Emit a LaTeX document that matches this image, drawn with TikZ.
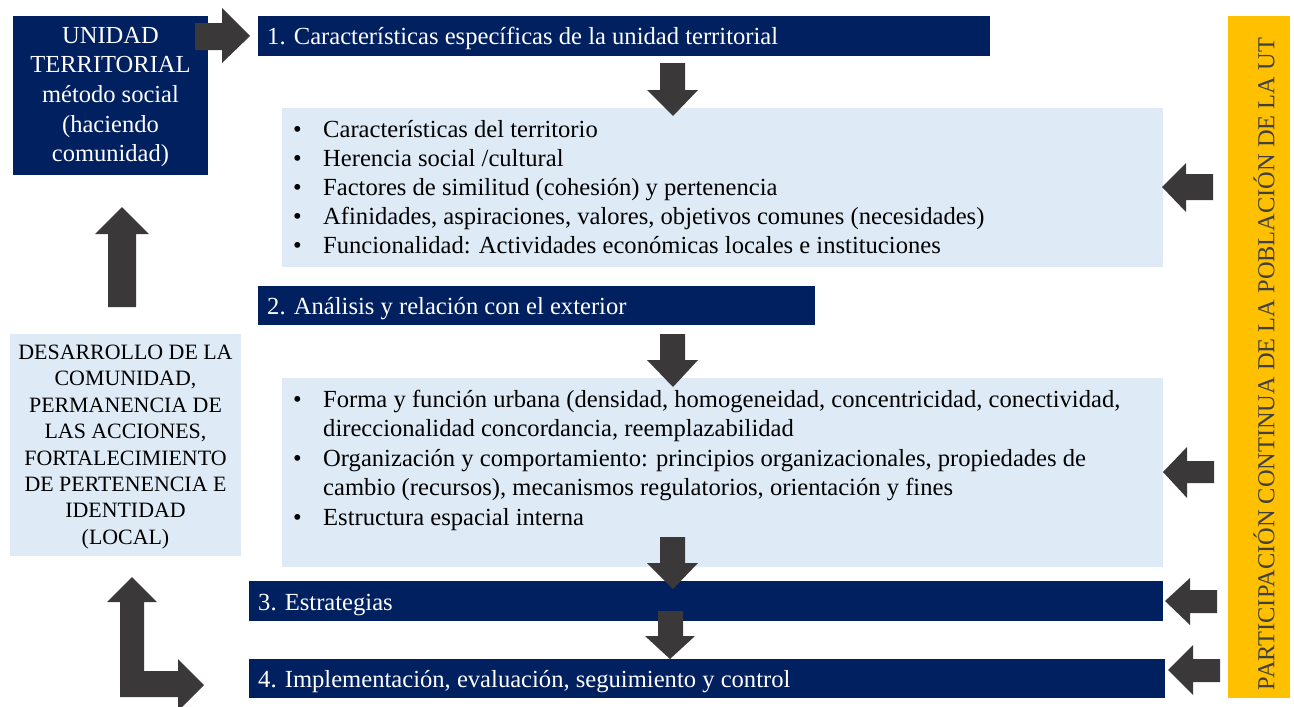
\documentclass[tikz,border=0pt]{standalone}
\usepackage{fontspec}
\setmainfont{Liberation Serif}
\definecolor{navy}{HTML}{002060}
\definecolor{pale}{HTML}{DEEBF7}
\definecolor{gold}{HTML}{FFC000}
\definecolor{arr}{HTML}{3A3838}
\definecolor{ytext}{HTML}{404040}
\newcommand\bulletmark{\makebox[30pt][l]{\textbullet}}
\begin{document}
\begin{tikzpicture}[x=1pt,y=-1pt,
  navybox/.style={fill=navy, draw=none, inner sep=0pt, anchor=north west},
  palebox/.style={fill=pale, draw=none, inner sep=0pt, anchor=north west},
  titletext/.style={text=white, anchor=base west, inner sep=0pt, font=\fontsize{24.6}{29}\selectfont},
  linetext/.style={text=black, anchor=base west, inner sep=0pt, font=\fontsize{24.6}{29}\selectfont},
  blockarrow/.style={fill=arr, draw=none}]
\useasboundingbox (0,0) rectangle (1294,707);

% left boxes
\node[navybox, minimum width=195pt, minimum height=159pt] (ut) at (13,16) {};
\node[text=white, align=center, inner sep=0pt, font=\fontsize{24.5}{29.6}\selectfont] (uttext) at (110.5,97)
  {UNIDAD\\TERRITORIAL\\método social\\(haciendo\\comunidad)};
\node[palebox, minimum width=231pt, minimum height=222pt] (des) at (10,334) {};
\node[text=black, align=center, inner sep=0pt, font=\fontsize{21.9}{26.4}\selectfont] (destext) at (125.5,447)
  {DESARROLLO DE LA\\COMUNIDAD,\\PERMANENCIA DE\\LAS ACCIONES,\\FORTALECIMIENTO\\DE PERTENENCIA E\\IDENTIDAD\\(LOCAL)};

% yellow column
\node[fill=gold, draw=none, inner sep=0pt, anchor=north west, minimum width=62pt, minimum height=682pt] (part) at (1228,16) {};
\node[text=ytext, rotate=90, inner sep=0pt, font=\fontsize{24.4}{29}\selectfont] (parttext) at (1264,364)
  {PARTICIPACIÓN CONTINUA DE LA POBLACIÓN DE LA UT};

% step boxes
\node[navybox, minimum width=732pt, minimum height=40pt] (s1) at (258,16) {};
\node[titletext] (s1t) at (267,44) {1. Características específicas de la unidad territorial};
\node[palebox, minimum width=881pt, minimum height=159pt] (c1) at (282,108) {};
\node[linetext] (c1a) at (293,137) {\bulletmark Características del territorio};
\node[linetext] (c1b) at (293,166.2) {\bulletmark Herencia social /cultural};
\node[linetext] (c1c) at (293,195.4) {\bulletmark Factores de similitud (cohesión) y pertenencia};
\node[linetext] (c1d) at (293,224.6) {\bulletmark Afinidades, aspiraciones, valores, objetivos comunes (necesidades)};
\node[linetext] (c1e) at (293,253.8) {\bulletmark Funcionalidad: Actividades económicas locales e instituciones};

\node[navybox, minimum width=557pt, minimum height=39pt] (s2) at (258,286) {};
\node[titletext] (s2t) at (267,314) {2. Análisis y relación con el exterior};
\node[palebox, minimum width=881pt, minimum height=189pt] (c2) at (282,378) {};
\node[linetext] (c2a) at (293,407.5) {\bulletmark Forma y función urbana (densidad, homogeneidad, concentricidad, conectividad,};
\node[linetext] (c2b) at (293,436.9) {\hspace*{30pt}direccionalidad concordancia, reemplazabilidad};
\node[linetext] (c2c) at (293,466.3) {\bulletmark Organización y comportamiento: principios organizacionales, propiedades de};
\node[linetext] (c2d) at (293,495.7) {\hspace*{30pt}cambio (recursos), mecanismos regulatorios, orientación y fines};
\node[linetext] (c2e) at (293,525.1) {\bulletmark Estructura espacial interna};

\node[navybox, minimum width=914pt, minimum height=40pt] (s3) at (249,581) {};
\node[titletext] (s3t) at (258,610.5) {3. Estrategias};
\node[navybox, minimum width=916pt, minimum height=39pt] (s4) at (249,659) {};
\node[titletext] (s4t) at (258,687.5) {4. Implementación, evaluación, seguimiento y control};

% block arrows
% UT -> step 1
\fill[blockarrow] (195,23) -- (222,23) -- (222,8) -- (250,36) -- (222,63) -- (222,50) -- (195,50) -- cycle;
% down arrows
\fill[blockarrow] (660,63) -- (685,63) -- (685,90) -- (698,90) -- (673,116) -- (647,90) -- (660,90) -- cycle;
\fill[blockarrow] (660,334) -- (685,334) -- (685,360) -- (698,360) -- (673,387) -- (647,360) -- (660,360) -- cycle;
\fill[blockarrow] (660,537) -- (685,537) -- (685,563) -- (698,563) -- (673,589) -- (647,563) -- (660,563) -- cycle;
\fill[blockarrow] (658,611) -- (683,611) -- (683,636) -- (695,636) -- (670,659) -- (645,636) -- (658,636) -- cycle;
% left-pointing arrows from participation column
\fill[blockarrow] (1213,174) -- (1186,174) -- (1186,163) -- (1162,187) -- (1186,212) -- (1186,200) -- (1213,200) -- cycle;
\fill[blockarrow] (1214,461) -- (1187,461) -- (1187,447) -- (1163,472) -- (1187,498) -- (1187,483) -- (1214,483) -- cycle;
\fill[blockarrow] (1217,590) -- (1190,590) -- (1190,578) -- (1165,601) -- (1190,625) -- (1190,613) -- (1217,613) -- cycle;
\fill[blockarrow] (1220,659) -- (1193,659) -- (1193,645) -- (1168,670) -- (1193,695) -- (1193,682) -- (1220,682) -- cycle;
% up arrow to UT
\fill[blockarrow] (108,307) -- (108,234) -- (95,234) -- (122,207) -- (149,234) -- (136,234) -- (136,307) -- cycle;
% L-shaped arrow
\fill[blockarrow] (120,697) -- (120,602) -- (107,602) -- (132,577) -- (157,602) -- (144,602) -- (144,671)
  -- (178,671) -- (178,659) -- (204,685) -- (178,711) -- (178,697) -- cycle;
\end{tikzpicture}
\end{document}
